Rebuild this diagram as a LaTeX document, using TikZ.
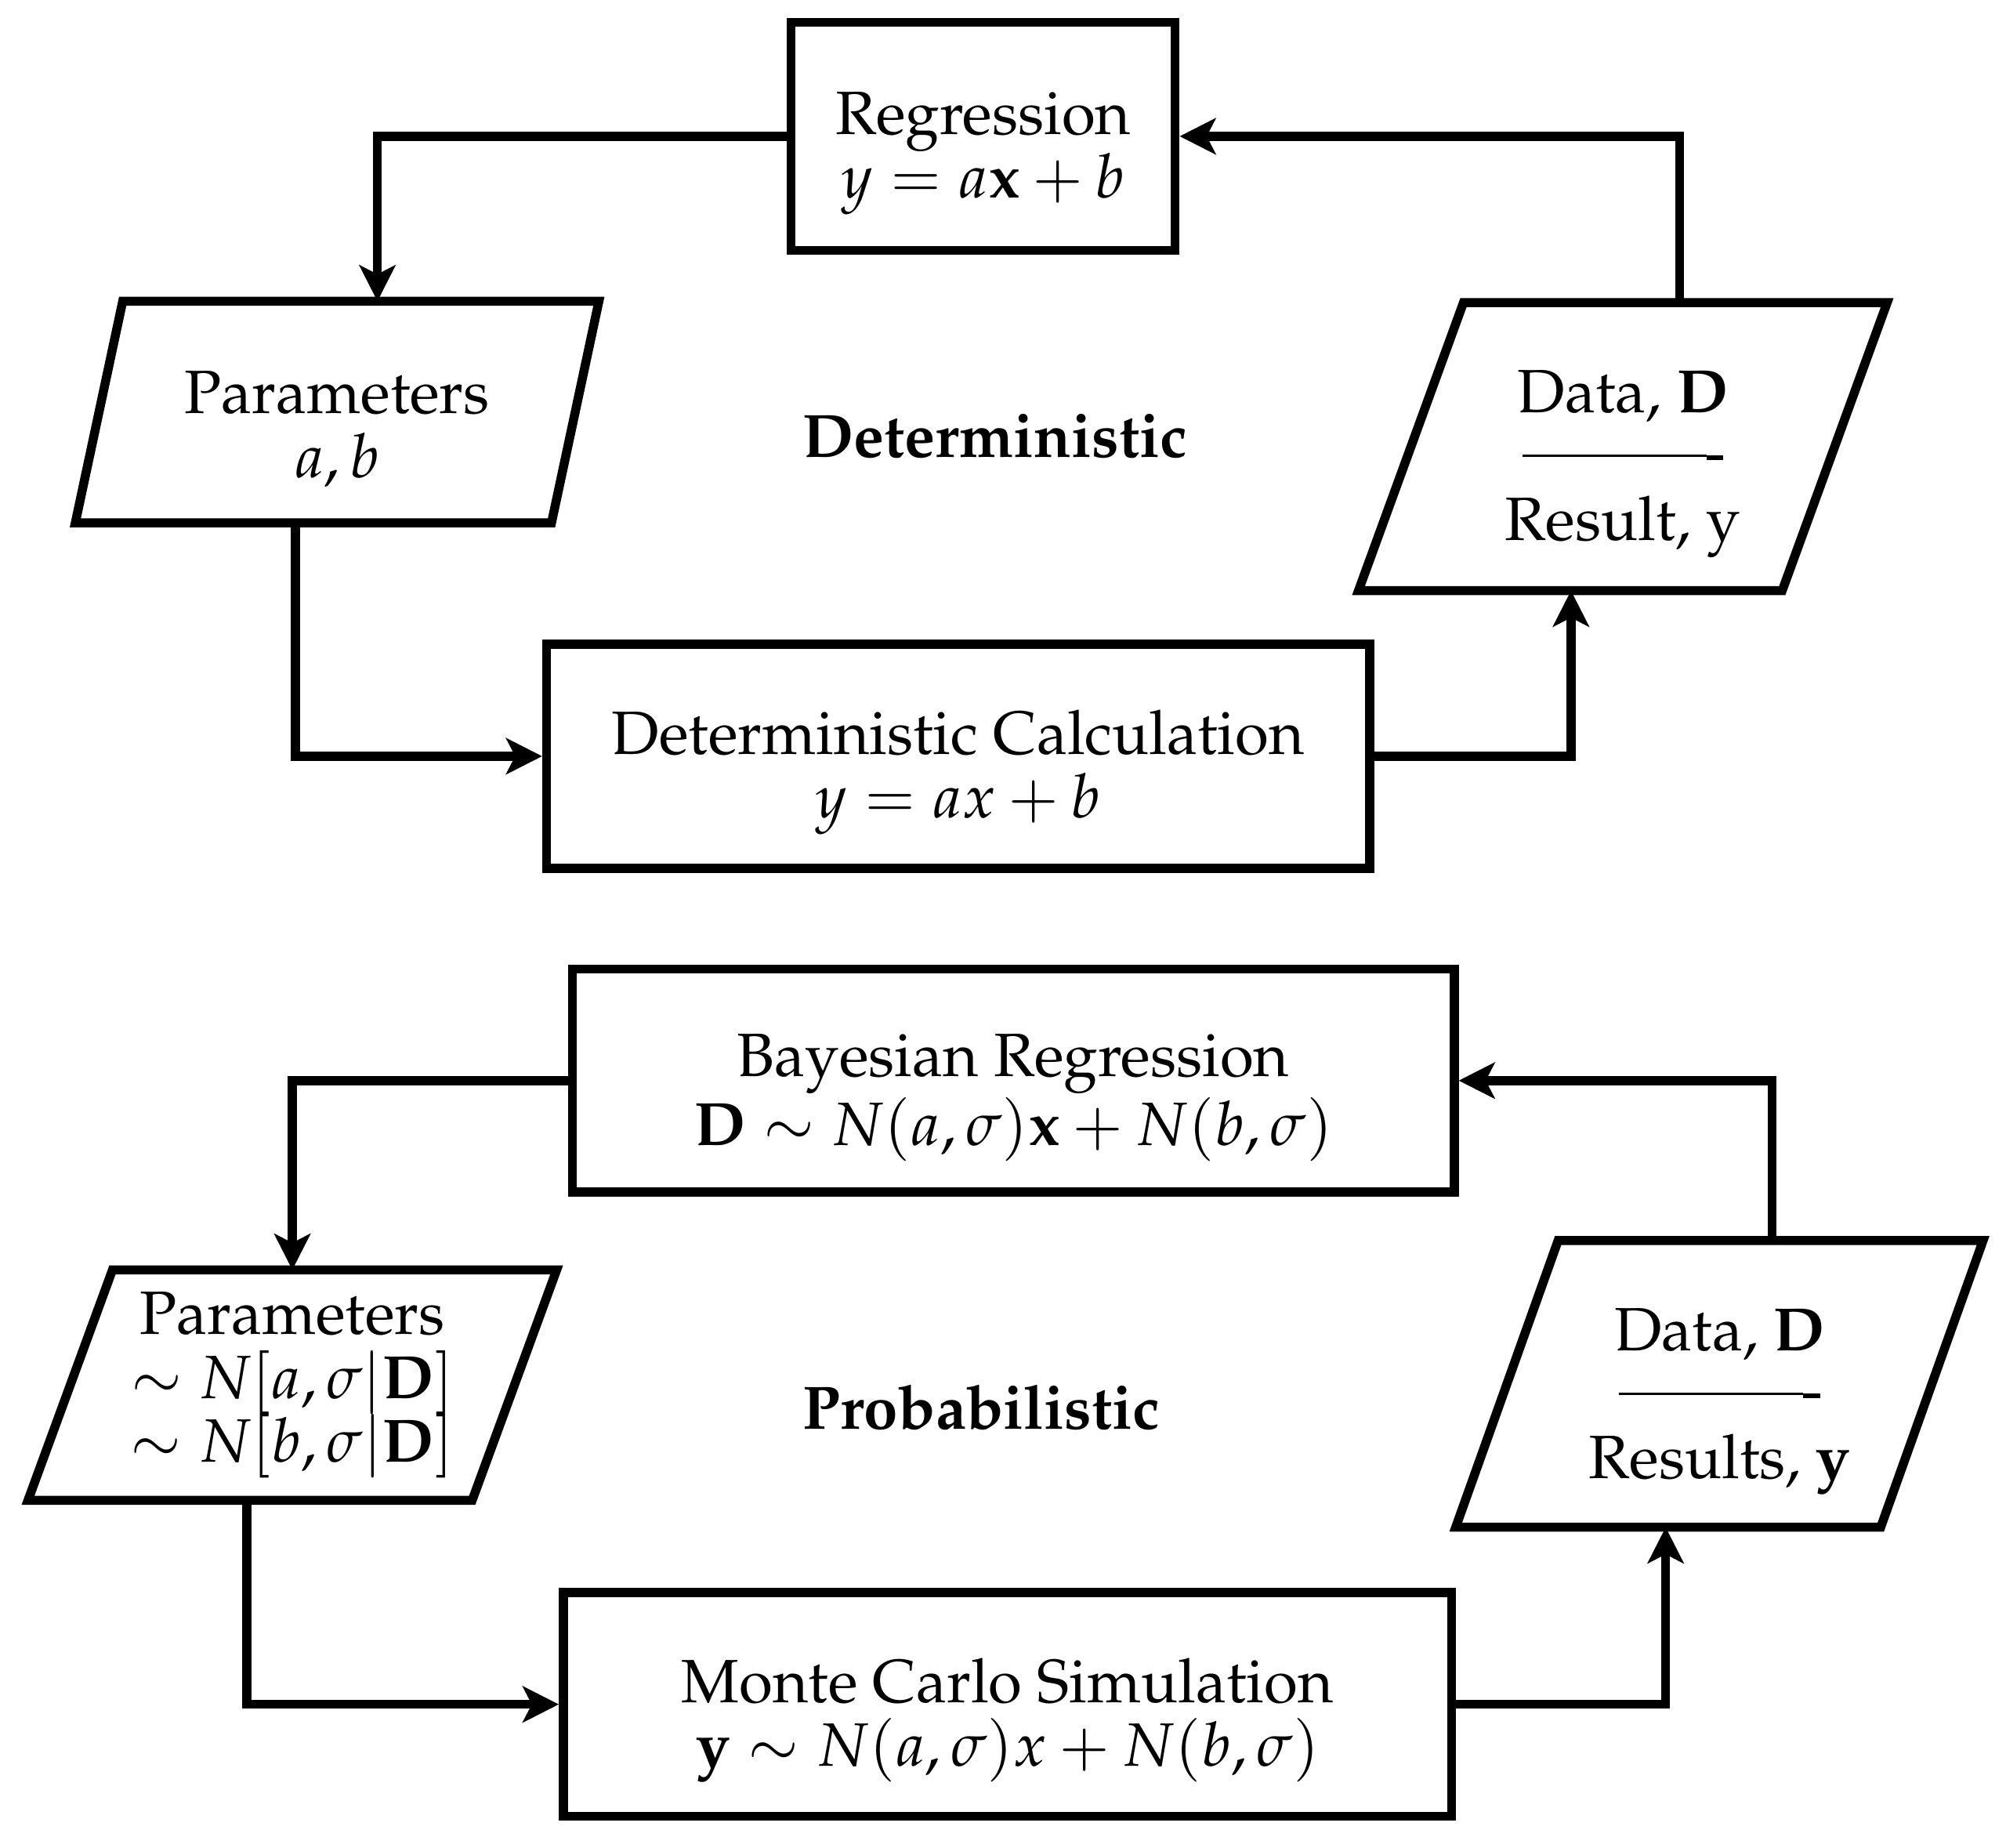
\documentclass[tikz,border=0pt]{standalone}
\usepackage[T1]{fontenc}
\usepackage{mathpazo}
\usepackage{amsmath}
\usepackage{tikz}
\usetikzlibrary{arrows.meta}

\newcommand{\topgap}{\rule{0pt}{17pt}}

\begin{document}
\begin{tikzpicture}[x=0.01cm,y=-0.01cm,font=\fontsize{13.6}{14.2}\selectfont]
\tikzstyle{process}=[rectangle, draw, line width=2pt, align=center]
\tikzstyle{io}=[rectangle, align=center, outer sep=0pt]
\tikzstyle{border}=[line width=2pt]
\tikzstyle{flow}=[line width=2pt, -{Stealth[length=8pt,width=8pt,inset=2pt]}]
\tikzstyle{tag}=[font=\fontsize{13.6}{14.2}\selectfont\bfseries, anchor=west, inner sep=0pt]
\useasboundingbox (0,0) rectangle (1568,1444);

 \node[process, minimum width=3cm, minimum height=1.78cm] (reg) at (768.5,106.5)
    {\topgap Regression\\$y = a\mathbf{x} + b$};
 \node[io, minimum width=3.72cm, minimum height=1.73cm] (par) at (263.5,322)
    {\topgap Parameters\\$a, b$};
 \node[io, minimum width=3.31cm, minimum height=2.25cm] (dat) at (1268.5,349)
    {\topgap Data, \textbf{D}\\\rule[4.2pt]{1.44cm}{0.6pt}\rule[3.6pt]{0.13cm}{1.1pt}\\Result, y};
 \node[process, minimum width=6.43cm, minimum height=1.75cm] (calc) at (749,591)
    {\topgap Deterministic Calculation\\$y = ax + b$};
 \node[tag] (det) at (627,341) {Deterministic};

 \node[process, minimum width=6.89cm, minimum height=1.74cm] (breg) at (792,844.5)
    {\topgap Bayesian Regression\\$\mathbf{D} \sim N(a,\sigma)\mathbf{x} + N(b,\sigma)$};
 \node[io, minimum width=3.47cm, minimum height=1.8cm] (bpar) at (228.5,1082.5)
    {Parameters\\$\sim N[a,\sigma|\mathbf{D}]$\\$\sim N[b,\sigma|\mathbf{D}]$};
 \node[io, minimum width=3.32cm, minimum height=2.24cm] (bdat) at (1344,1081.5)
    {\topgap Data, \textbf{D}\\\rule[4.2pt]{1.44cm}{0.6pt}\rule[3.6pt]{0.13cm}{1.1pt}\\Results, \textbf{y}};
 \node[process, minimum width=6.94cm, minimum height=1.75cm] (mc) at (787.5,1332)
    {\topgap Monte Carlo Simulation\\$\mathbf{y} \sim N(a,\sigma)x + N(b,\sigma)$};
 \node[tag] (prob) at (627,1100) {Probabilistic};

 \draw[border] ([xshift=1.85mm]par.north west) -- ([xshift=1.85mm]par.north east)
    -- ([xshift=-1.85mm]par.south east) -- ([xshift=-1.85mm]par.south west) -- cycle;
 \draw[border] ([xshift=4.1mm]dat.north west) -- ([xshift=4.1mm]dat.north east)
    -- ([xshift=-4.1mm]dat.south east) -- ([xshift=-4.1mm]dat.south west) -- cycle;
 \draw[border] ([xshift=3.3mm]bpar.north west) -- ([xshift=3.3mm]bpar.north east)
    -- ([xshift=-3.3mm]bpar.south east) -- ([xshift=-3.3mm]bpar.south west) -- cycle;
 \draw[border] ([xshift=4mm]bdat.north west) -- ([xshift=4mm]bdat.north east)
    -- ([xshift=-4mm]bdat.south east) -- ([xshift=-4mm]bdat.south west) -- cycle;

 \draw[flow] (reg.west) -| ([xshift=3.15mm]par.north);
 \draw[flow] ([xshift=-3.25mm]par.south) |- (calc.west);
 \draw[flow] (calc.east) -| ([xshift=-4.05mm]dat.south);
 \draw[flow] ([xshift=4.45mm]dat.north) |- (reg.east);

 \draw[flow] (breg.west) -| (bpar.north);
 \draw[flow] ([xshift=-3.55mm]bpar.south) |- (mc.west);
 \draw[flow] (mc.east) -| ([xshift=-4.2mm]bdat.south);
 \draw[flow] ([xshift=4.1mm]bdat.north) |- (breg.east);
\end{tikzpicture}
\end{document}
